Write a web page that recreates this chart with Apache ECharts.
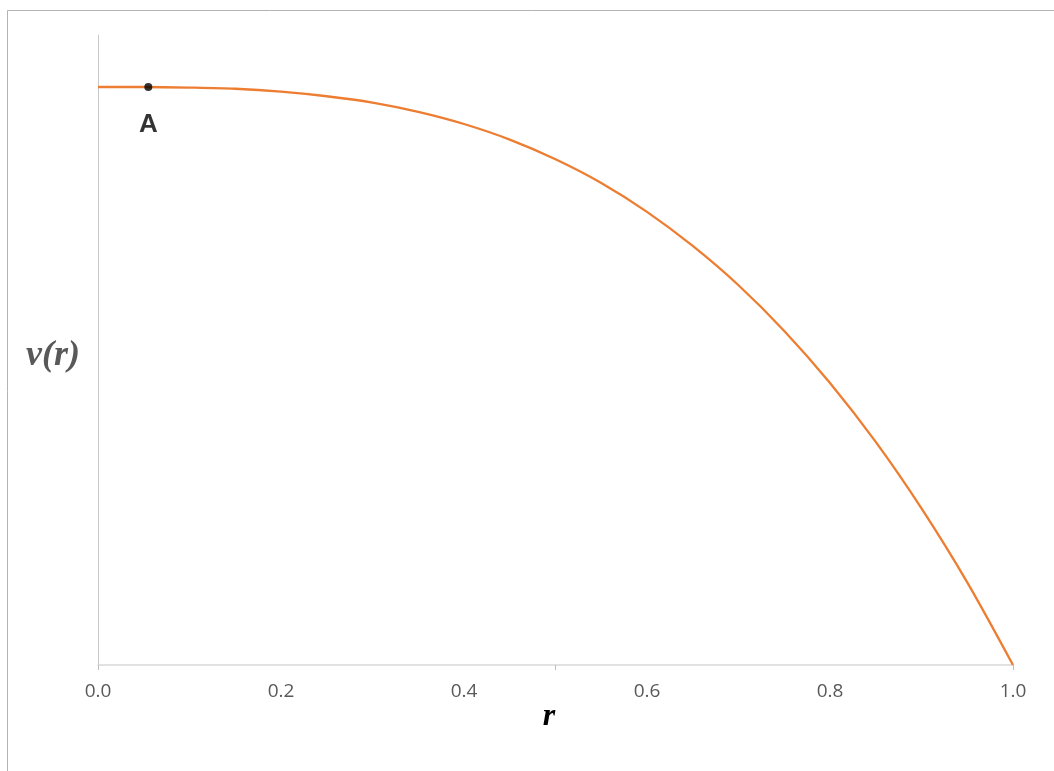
<!DOCTYPE html>
<html>
<head>
<meta charset="utf-8">
<script src="https://cdn.jsdelivr.net/npm/echarts@6/dist/echarts.min.js"></script>
<style>
html,body{margin:0;padding:0;background:#fff;}
#c{width:1054px;height:771px;}
</style>
</head>
<body>
<div id="c"></div>
<script>
// Radius values r and velocity v(r)
const rValues = [0, 0.05, 0.1, 0.15, 0.2, 0.25, 0.3, 0.35, 0.4, 0.45, 0.5, 0.55, 0.6, 0.65, 0.7, 0.75, 0.8, 0.85, 0.9, 0.95, 1.0];
const vValues = [1.000, 1.000, 0.999, 0.997, 0.992, 0.984, 0.973, 0.957, 0.936, 0.909, 0.875, 0.834, 0.784, 0.725, 0.657, 0.578, 0.488, 0.386, 0.271, 0.143, 0.000];
const pointA = { name: 'A', r: 0.055, v: 1.0 };
const xLabels = ['0.0', '0.2', '0.4', '0.6', '0.8', '1.0'];
const xName = 'r';
const yName = 'v(r)';

const curve = rValues.map((r, i) => [r, vValues[i]]);

const chart = echarts.init(document.getElementById('c'), null, { renderer: 'canvas' });
chart.setOption({
  animation: false,
  backgroundColor: '#fff',
  grid: { left: 98, right: 41, top: 35, bottom: 106 },
  xAxis: [{
    type: 'value', min: 0, max: 1, interval: 0.2,
    axisLine: { show: true, lineStyle: { color: '#d9d9d9', width: 1.5 } },
    axisTick: { show: false },
    splitLine: { show: false },
    axisLabel: {
      show: true, margin: 17, color: '#595959', fontSize: 19,
      fontFamily: 'Open Sans',
      formatter: v => xLabels[Math.round(v / 0.2)]
    }
  }, {
    type: 'value', min: 0, max: 1, interval: 0.5, position: 'bottom',
    axisLine: { show: false },
    axisTick: { show: true, length: 5, lineStyle: { color: '#bfbfbf', width: 1 } },
    axisLabel: { show: false },
    splitLine: { show: false }
  }],
  yAxis: {
    type: 'value', min: 0, max: 1.09,
    axisLine: { show: true, lineStyle: { color: '#c8c8c8', width: 1 } },
    axisTick: { show: false },
    axisLabel: { show: false },
    splitLine: { show: false }
  },
  series: [{
    type: 'line',
    data: curve,
    smooth: 0.3,
    showSymbol: false,
    lineStyle: { color: '#ED7D31', width: 2.3 },
    z: 2
  }, {
    type: 'scatter',
    data: [[pointA.r, pointA.v]],
    symbol: 'circle',
    symbolSize: 8,
    itemStyle: { color: '#000' },
    label: {
      show: true, position: 'bottom', distance: 21,
      formatter: pointA.name,
      color: '#000', fontSize: 26, fontWeight: 'bold', fontFamily: 'Liberation Sans'
    },
    z: 3
  }],
  graphic: [{
    type: 'rect',
    shape: { x: 7.5, y: 10.5, width: 1100, height: 800 },
    style: { fill: 'none', stroke: '#b3b3b3', lineWidth: 1 },
    silent: true
  }, {
    type: 'text',
    x: 53, y: 356,
    style: {
      text: yName, fill: '#595959',
      font: 'italic bold 36px "Liberation Serif"',
      align: 'center', verticalAlign: 'middle'
    }
  }, {
    type: 'text',
    x: 549, y: 717,
    style: {
      text: xName, fill: '#000',
      font: 'italic bold 32px "Liberation Serif"',
      align: 'center', verticalAlign: 'middle'
    }
  }]
});
</script>
</body>
</html>
